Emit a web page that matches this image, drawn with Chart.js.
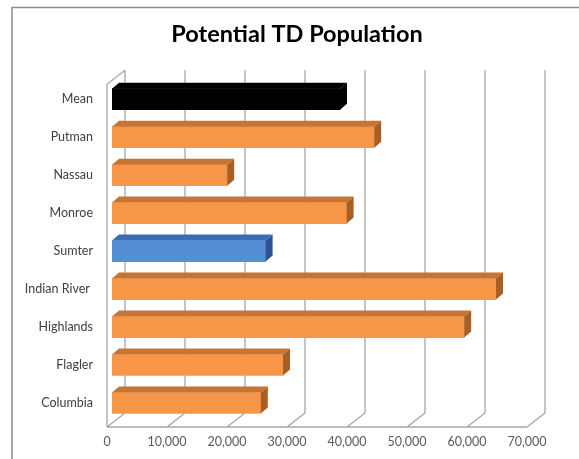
<!DOCTYPE html>
<html>
<head>
<meta charset="utf-8">
<script src="https://cdn.jsdelivr.net/npm/chart.js@4/dist/chart.umd.min.js"></script>
<style>
  html, body { margin: 0; padding: 0; background: #fff; }
  #wrap { width: 579px; height: 459px; position: relative; }
</style>
</head>
<body>
<div id="wrap"><canvas id="chart" width="579" height="459"></canvas></div>
<script>
// data
const counties = ['Mean', 'Putman', 'Nassau', 'Monroe', 'Sumter', 'Indian River ', 'Highlands', 'Flagler', 'Columbia'];
const population = [38000, 43700, 19200, 39100, 25600, 64000, 58700, 28500, 24800];
const xTicks = [0, 10000, 20000, 30000, 40000, 50000, 60000, 70000];

// which bars get a different colour
const special = { 'Mean': 'mean', 'Sumter': 'focus' };

const palette = {
  plain: { front: '#f79646', top: '#c77535', side: '#a65f27' },
  focus: { front: '#558ed5', top: '#3b6cb2', side: '#2c5290' },
  mean:  { front: '#000000', top: '#000000', side: '#000000' }
};
const colorsFor = c => palette[special[c] || 'plain'];

// depth of the 3d box
const DEPTH = { backDx: 13, backTop: -10, backBottom: -9, frontDx: -5, frontBottom: 5 };
const BAR_DX = 7, BAR_DY = 6;

const depth3d = {
  id: 'depth3d',
  afterLayout(chart) {
    // title sits centred on the whole frame, not on the plot
    const t = chart.titleBlock;
    t.left += 25;
    t.right += 25;
  },
  beforeDraw(chart) {
    const ctx = chart.ctx;
    ctx.save();
    ctx.strokeStyle = '#8c8c8c';
    ctx.lineWidth = 1.5;
    ctx.beginPath();
    ctx.moveTo(12, chart.height);
    ctx.lineTo(12, 7.5);
    ctx.lineTo(chart.width, 7.5);
    ctx.stroke();
    ctx.restore();
  },
  beforeDatasetsDraw(chart) {
    const ctx = chart.ctx, a = chart.chartArea, x = chart.scales.x;
    ctx.save();
    ctx.strokeStyle = '#a6a6a6';
    ctx.lineWidth = 1.3;
    ctx.beginPath();
    xTicks.forEach(v => {
      const p = x.getPixelForValue(v);
      ctx.moveTo(p + DEPTH.backDx, a.top + DEPTH.backTop);
      ctx.lineTo(p + DEPTH.backDx, a.bottom + DEPTH.backBottom);
      ctx.lineTo(p + DEPTH.frontDx, a.bottom + DEPTH.frontBottom);
    });
    const p0 = x.getPixelForValue(xTicks[0]);
    const pN = x.getPixelForValue(xTicks[xTicks.length - 1]);
    // floor front edge
    ctx.moveTo(p0 + DEPTH.frontDx, a.bottom + DEPTH.frontBottom);
    ctx.lineTo(pN + DEPTH.frontDx, a.bottom + DEPTH.frontBottom);
    // left wall front edge
    ctx.moveTo(p0 + DEPTH.frontDx, a.bottom + DEPTH.frontBottom);
    ctx.lineTo(p0 + DEPTH.frontDx, a.top + DEPTH.backTop + 14);
    ctx.lineTo(p0 + DEPTH.backDx, a.top + DEPTH.backTop);
    ctx.stroke();
    ctx.restore();
  },
  afterDatasetsDraw(chart) {
    const ctx = chart.ctx;
    const meta = chart.getDatasetMeta(0);
    ctx.save();
    meta.data.forEach((bar, i) => {
      const c = colorsFor(counties[i]);
      const top = bar.y - bar.height / 2, bottom = bar.y + bar.height / 2;
      const x0 = bar.base, x1 = bar.x;
      // top face
      ctx.fillStyle = c.top;
      ctx.beginPath();
      ctx.moveTo(x0, top);
      ctx.lineTo(x0 + BAR_DX, top - BAR_DY);
      ctx.lineTo(x1 + BAR_DX, top - BAR_DY);
      ctx.lineTo(x1, top);
      ctx.closePath();
      ctx.fill();
      // side face
      ctx.fillStyle = c.side;
      ctx.beginPath();
      ctx.moveTo(x1, top);
      ctx.lineTo(x1 + BAR_DX, top - BAR_DY);
      ctx.lineTo(x1 + BAR_DX, bottom - BAR_DY);
      ctx.lineTo(x1, bottom);
      ctx.closePath();
      ctx.fill();
    });
    ctx.restore();
  }
};

new Chart(document.getElementById('chart'), {
  type: 'bar',
  data: {
    labels: counties,
    datasets: [{
      data: population,
      backgroundColor: counties.map(c => colorsFor(c).front),
      borderWidth: 0,
      barThickness: 21
    }]
  },
  plugins: [depth3d],
  options: {
    indexAxis: 'y',
    responsive: false,
    animation: false,
    layout: { padding: { left: 12, right: 47, top: 7, bottom: 0 } },
    plugins: {
      legend: { display: false },
      tooltip: { enabled: false },
      title: {
        display: true,
        text: 'Potential TD Population',
        color: '#000',
        font: { family: 'Lato', size: 23.5, weight: 'bold' },
        padding: { top: 13, bottom: 32 }
      }
    },
    scales: {
      x: {
        min: 0,
        max: 70000,
        grid: { display: false, drawTicks: false },
        border: { display: false },
        afterFit: s => { s.height = 37; },
        afterBuildTicks: s => { s.ticks = xTicks.map(v => ({ value: v })); },
        ticks: {
          padding: 12,
          labelOffset: -5,
          color: '#595959',
          font: { family: 'Lato', size: 12.5 },
          callback: v => v.toLocaleString('en-US')
        }
      },
      y: {
        grid: { display: false, drawTicks: false },
        border: { display: false },
        afterFit: s => { s.width = 100; },
        ticks: {
          padding: 19,
          color: '#404040',
          font: { family: 'Lato', size: 12.5 }
        }
      }
    }
  }
});
</script>
</body>
</html>
